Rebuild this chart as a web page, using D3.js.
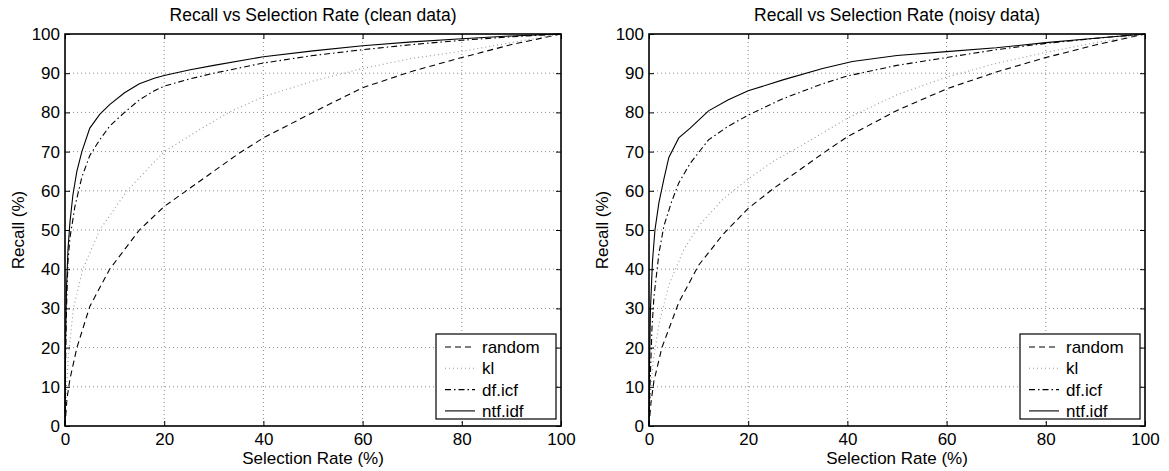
<!DOCTYPE html>
<html>
<head>
<meta charset="utf-8">
<script src="https://cdn.jsdelivr.net/npm/d3@7"></script>
<style>
  body { margin: 0; background: #fff; }
  text { font-family: "Liberation Sans", Arial, Helvetica, sans-serif; fill: #000; }
</style>
</head>
<body>
<div id="chart"></div>
<script>
var width = 1169, height = 471;

// x = selection rate (%), y = recall (%)
var xTicks = [0, 20, 40, 60, 80, 100];
var yTicks = [0, 10, 20, 30, 40, 50, 60, 70, 80, 90, 100];
var seriesNames = ["random", "kl", "df.icf", "ntf.idf"];
var titles = ["Recall vs Selection Rate (clean data)", "Recall vs Selection Rate (noisy data)"];

var cleanRandom = [[0,0],[0.4,7],[1,12],[2.4,20],[5,30.5],[9,40],[15,50],[20,56],[25,60.5],[30,65],[35,69.5],[40,73.5],[50,80],[60,86.3],[70,90.5],[80,94],[90,97.3],[100,100]];
var cleanKl = [[0,0],[0.3,10],[0.7,18],[1.7,30],[3.6,40],[7,50],[12.5,60],[20,70],[27,75.5],[33,80],[40,84],[50,88],[60,91.2],[70,93.8],[80,95.6],[90,97.8],[100,100]];
var cleanDficf = [[0,0],[0.1,15],[0.3,30],[0.6,42],[1,48],[2,56],[3.4,63.5],[5,69],[7,73],[9,76.5],[12,80],[15,83.2],[18,85.5],[20,86.7],[25,88.5],[30,90],[40,92.6],[50,94.5],[60,96],[70,97.3],[80,98.4],[90,99.3],[100,100]];
var cleanNtfidf = [[0,0],[0.1,20],[0.3,35],[0.6,45],[1,52],[1.6,59],[2.4,65],[3.4,70],[5,76],[7,79.5],[9,82],[12,85],[15,87.3],[18,88.7],[20,89.4],[25,90.8],[30,92],[40,94.2],[50,95.7],[60,97],[70,98],[80,98.8],[90,99.5],[100,100]];

var noisyRandom = [[0,0],[0.4,6],[1,11.5],[2.6,20],[6,31.5],[10,41],[15,49],[20,55.5],[25,60.5],[30,65],[35,69.5],[40,73.8],[50,80.5],[60,86],[70,90.3],[80,94],[90,97.2],[100,100]];
var noisyKl = [[0,0],[0.3,8],[0.8,16],[2,26],[4,36],[7,45],[10,51],[15,58],[20,63],[25,67.5],[30,71],[40,78.5],[50,84.5],[60,89],[70,92.5],[80,95.3],[90,97.8],[100,100]];
var noisyDficf = [[0,0],[0.2,10],[0.6,25],[1,33],[2,44],[3,51],[4.5,57],[6,62],[8.3,67],[12,73],[16,76.5],[20,79.3],[27,83.5],[35,87.3],[40,89.3],[50,92],[60,94],[70,96],[80,97.6],[90,98.9],[100,100]];
var noisyNtfidf = [[0,0],[0.1,15],[0.3,30],[0.7,42],[1.2,50],[2,57],[3,63],[4,68.5],[6,73.5],[8.3,76],[12,80.4],[16,83.2],[20,85.5],[27,88.3],[35,91.2],[41,93],[50,94.5],[60,95.5],[70,96.5],[80,97.8],[90,98.9],[100,100]];

var styles = [
  { stroke: "#000", dash: "6,4", width: 1.1 },
  { stroke: "#999", dash: "1,3", width: 1.1 },
  { stroke: "#000", dash: "6,3,1.5,3", width: 1.1 },
  { stroke: "#000", dash: null, width: 1.1 }
];

var svg = d3.select("#chart").append("svg")
    .attr("width", width)
    .attr("height", height);

var panels = [
  { left: 65, title: titles[0], series: [cleanRandom, cleanKl, cleanDficf, cleanNtfidf] },
  { left: 649, title: titles[1], series: [noisyRandom, noisyKl, noisyDficf, noisyNtfidf] }
];
var plotW = 496, plotTop = 34, plotH = 392;
var fontSize = "17px";

panels.forEach(function(p) {
  var g = svg.append("g").attr("transform", "translate(" + p.left + "," + plotTop + ")");
  var x = d3.scaleLinear().domain([0, 100]).range([0, plotW]);
  var y = d3.scaleLinear().domain([0, 100]).range([plotH, 0]);

  // grid
  g.append("g").selectAll("line")
    .data(xTicks.slice(1, -1)).enter().append("line")
    .attr("x1", d => x(d)).attr("x2", d => x(d))
    .attr("y1", 0).attr("y2", plotH)
    .attr("stroke", "#888").attr("stroke-dasharray", "1,3");
  g.append("g").selectAll("line")
    .data(yTicks.slice(1, -1)).enter().append("line")
    .attr("y1", d => y(d)).attr("y2", d => y(d))
    .attr("x1", 0).attr("x2", plotW)
    .attr("stroke", "#888").attr("stroke-dasharray", "1,3");

  // curves
  var line = d3.line().x(d => x(d[0])).y(d => y(d[1]));
  p.series.forEach(function(s, i) {
    g.append("path")
      .datum(s)
      .attr("d", line)
      .attr("fill", "none")
      .attr("stroke", styles[i].stroke)
      .attr("stroke-width", styles[i].width)
      .attr("stroke-dasharray", styles[i].dash);
  });

  // axes, ticks pointing inwards
  var ax = [
    g.append("g").attr("transform", "translate(0," + plotH + ")")
      .call(d3.axisBottom(x).tickValues(xTicks).tickSize(-5).tickPadding(7)),
    g.append("g").call(d3.axisTop(x).tickValues(xTicks).tickSize(-5).tickFormat("")),
    g.append("g").call(d3.axisLeft(y).tickValues(yTicks).tickSize(-5).tickPadding(5)),
    g.append("g").attr("transform", "translate(" + plotW + ",0)")
      .call(d3.axisRight(y).tickValues(yTicks).tickSize(-5).tickFormat(""))
  ];
  ax.forEach(function(a) {
    a.select(".domain").remove();
    a.selectAll("text").style("font-size", fontSize);
  });
  g.append("rect")
    .attr("width", plotW).attr("height", plotH)
    .attr("fill", "none").attr("stroke", "#000").attr("stroke-width", 1.6);

  // title and labels
  g.append("text")
    .attr("x", plotW / 2).attr("y", -13)
    .attr("text-anchor", "middle").style("font-size", "17.5px")
    .text(p.title);
  g.append("text")
    .attr("x", plotW / 2).attr("y", plotH + 38)
    .attr("text-anchor", "middle").style("font-size", fontSize)
    .text("Selection Rate (%)");
  g.append("text")
    .attr("transform", "translate(-41," + (plotH / 2) + ") rotate(-90)")
    .attr("text-anchor", "middle").style("font-size", fontSize)
    .text("Recall (%)");

  // legend
  var lg = g.append("g").attr("transform", "translate(" + (plotW - 125) + "," + (plotH - 92) + ")");
  lg.append("rect").attr("width", 120).attr("height", 85)
    .attr("fill", "#fff").attr("stroke", "#000").attr("stroke-width", 1.2);
  seriesNames.forEach(function(name, i) {
    var yy = 13 + i * 21.3;
    lg.append("line")
      .attr("x1", 9).attr("x2", 39).attr("y1", yy).attr("y2", yy)
      .attr("stroke", styles[i].stroke)
      .attr("stroke-width", styles[i].width)
      .attr("stroke-dasharray", styles[i].dash);
    lg.append("text")
      .attr("x", 46).attr("y", yy + 6)
      .style("font-size", fontSize)
      .text(name);
  });
});
</script>
</body>
</html>
